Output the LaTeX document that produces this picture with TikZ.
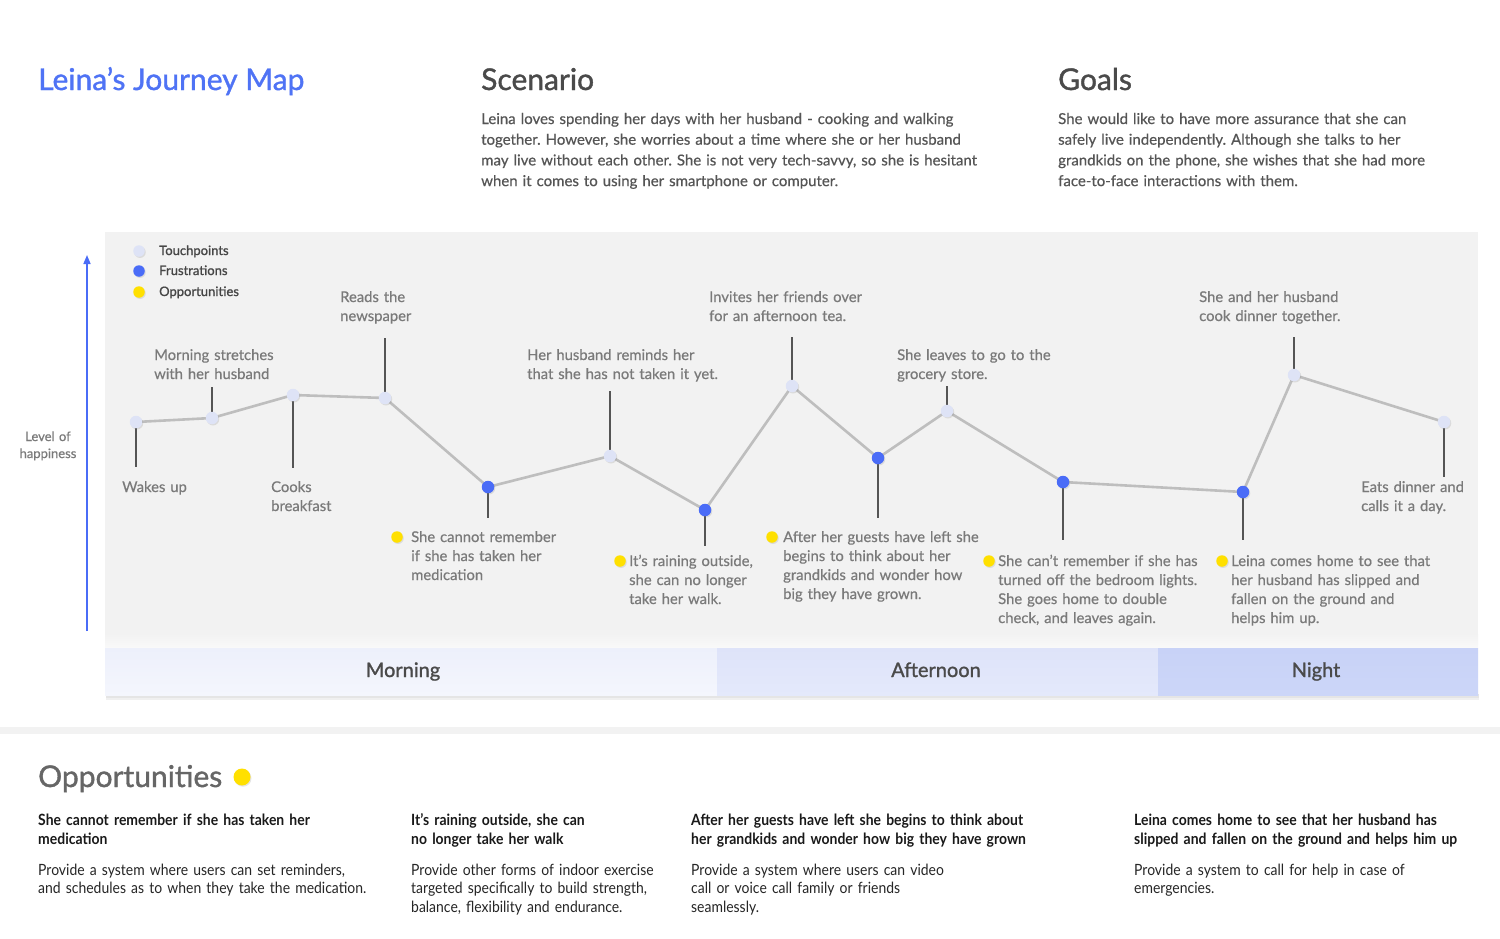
\documentclass[tikz,border=0pt]{standalone}
\usepackage{fontspec}
\setmainfont{Lato}
\newfontfamily\medfont{Lato}[FakeBold=1.2]
\newfontfamily\labelfont{Lato}[FakeBold=0.5]
\newfontfamily\narrowfont{Lato}[FakeStretch=0.9]
\usetikzlibrary{shadows,arrows.meta}
\frenchspacing

\definecolor{titleblue}{RGB}{79,115,245}
\definecolor{frust}{RGB}{74,108,247}
\definecolor{touch}{RGB}{222,227,246}
\definecolor{oppy}{RGB}{255,224,0}
\definecolor{panel}{RGB}{242,242,242}
\definecolor{curvegray}{RGB}{190,190,190}
\definecolor{stemgray}{RGB}{85,85,85}
\definecolor{labelgray}{RGB}{122,122,122}
\definecolor{headgray}{RGB}{74,74,74}
\definecolor{bodygray}{RGB}{85,85,85}
\definecolor{legendgray}{RGB}{70,70,70}
\definecolor{morningA}{RGB}{237,240,251}
\definecolor{morningB}{RGB}{244,246,253}
\definecolor{afternoonA}{RGB}{222,227,249}
\definecolor{afternoonB}{RGB}{228,233,251}
\definecolor{nightA}{RGB}{200,210,247}
\definecolor{nightB}{RGB}{204,214,248}

\pgfdeclarelayer{back}
\pgfdeclarelayer{mid}
\pgfsetlayers{back,mid,main}

\begin{document}
\begin{tikzpicture}[x=1pt,y=-1pt,
  every node/.style={inner sep=0pt},
  heading/.style={anchor=base west, font=\medfont\fontsize{30}{34}\selectfont, text=headgray},
  prose/.style={anchor=base west, text width=520pt, align=left,
    font=\labelfont\fontsize{15}{20.7}\selectfont, text=bodygray},
  lbl/.style={anchor=base west, text width=240pt, align=left,
    font=\labelfont\fontsize{14.8}{19}\selectfont, text=labelgray},
  legendtxt/.style={anchor=base west, font=\medfont\fontsize{13}{14}\selectfont, text=legendgray},
  dotbase/.style={circle, minimum size=12.5pt,
    drop shadow={shadow xshift=1pt, shadow yshift=-1.2pt, opacity=0.2}},
  touchdot/.style={dotbase, fill=touch},
  frustdot/.style={dotbase, fill=frust},
  oppdot/.style={dotbase, fill=oppy, minimum size=11.5pt},
  curve/.style={draw=curvegray, line width=2.6pt, rounded corners=5pt, line join=round},
  stem/.style={draw=stemgray, line width=1.1pt},
  phase/.style={anchor=base, font=\medfont\fontsize{20}{22}\selectfont, text=headgray},
  opptitle/.style={anchor=base west, text width=420pt, align=left,
    font=\narrowfont\fontsize{15.5}{19}\selectfont\bfseries, text=black!90},
  oppbody/.style={anchor=base west, text width=420pt, align=left,
    font=\narrowfont\fontsize{15.5}{18.5}\selectfont, text=black!85}
]
\useasboundingbox (0,0) rectangle (1500,938);

% ---------- page and chart panel ----------
\begin{pgfonlayer}{back}
  \fill[white] (0,0) rectangle (1500,938);
  \fill[panel] (105,232) rectangle (1478,648);
  \shade[top color=panel, bottom color=panel!45!white] (105,634) rectangle (1478,648);
  \fill[black, opacity=0.10] (106,694) rectangle (1479,698);
  \fill[black, opacity=0.06] (106,698) rectangle (1479,700);
  \shade[top color=morningA, bottom color=morningB] (105,648) rectangle (717,695);
  \shade[top color=afternoonA, bottom color=afternoonB] (717,648) rectangle (1158,695);
  \shade[top color=nightA, bottom color=nightB] (1158,648) rectangle (1478,695);
  \fill[panel] (0,727) rectangle (1500,734);
\end{pgfonlayer}

% ---------- header ----------
\node[anchor=base west, font=\medfont\fontsize{30}{34}\selectfont, text=titleblue] (title) at (38,90) {Leina’s Journey Map};
\node[heading] (scenhead) at (481,90) {Scenario};
\node[prose] (scentext) at (481,124) {Leina loves spending her days with her husband - cooking and walking\\
together. However, she worries about a time where she or her husband\\
may live without each other. She is not very tech-savvy, so she is hesitant\\
when it comes to using her smartphone or computer.};
\node[heading] (goalhead) at (1058,90) {Goals};
\node[prose] (goaltext) at (1058,124) {She would like to have more assurance that she can\\
safely live independently. Although she talks to her\\
grandkids on the phone, she wishes that she had more\\
face-to-face interactions with them.};

% ---------- day phases ----------
\node[phase] (morning) at (403,677) {Morning};
\node[phase] (afternoon) at (936,677) {Afternoon};
\node[phase] (night) at (1316,677) {Night};

% ---------- happiness axis ----------
\coordinate (axbot) at (87,631);
\coordinate (axtop) at (87,255);
\draw[frust, line width=1.6pt, -{Triangle[length=9pt,width=7pt]}] (axbot) -- (axtop);
\node[anchor=base, text width=80pt, align=center, font=\labelfont\fontsize{13}{17}\selectfont, text=labelgray]
  (axislabel) at (48,441) {Level of\\happiness};

% ---------- legend ----------
\node[touchdot, minimum size=11.5pt] (lgt) at (139,251) {};
\node[frustdot, minimum size=11.5pt] (lgf) at (139,271) {};
\node[oppdot] (lgo) at (139,292) {};
\node[legendtxt] (lgtt) at (159,255) {Touchpoints};
\node[legendtxt] (lgft) at (159,275) {Frustrations};
\node[legendtxt] (lgot) at (159,296) {Opportunities};

% ---------- journey points ----------
\node[touchdot] (p1)  at (136,422) {};
\node[touchdot] (p2)  at (212,418) {};
\node[touchdot] (p3)  at (293,395) {};
\node[touchdot] (p4)  at (385,398) {};
\node[frustdot] (p5)  at (488,487) {};
\node[touchdot] (p6)  at (610,456) {};
\node[frustdot] (p7)  at (705,510) {};
\node[touchdot] (p8)  at (792,386) {};
\node[frustdot] (p9)  at (878,458) {};
\node[touchdot] (p10) at (947,411) {};
\node[frustdot] (p11) at (1063,482) {};
\node[frustdot] (p12) at (1243,492) {};
\node[touchdot] (p13) at (1294,375) {};
\node[touchdot] (p14) at (1444,422) {};

% stem ends
\coordinate (s1)  at (136,467);
\coordinate (s2)  at (212,387);
\coordinate (s3)  at (293,468);
\coordinate (s4)  at (385,338);
\coordinate (s5)  at (488,518);
\coordinate (s6)  at (610,391);
\coordinate (s7)  at (705,546);
\coordinate (s8)  at (792,337);
\coordinate (s9)  at (878,518);
\coordinate (s10) at (947,386);
\coordinate (s11) at (1063,540);
\coordinate (s12) at (1243,540);
\coordinate (s13) at (1294,337);
\coordinate (s14) at (1444,477);

\begin{pgfonlayer}{mid}
  \draw[curve] (p1.center) -- (p2.center) -- (p3.center) -- (p4.center) -- (p5.center)
    -- (p6.center) -- (p7.center) -- (p8.center) -- (p9.center) -- (p10.center)
    -- (p11.center) -- (p12.center) -- (p13.center) -- (p14.center);
  \foreach \i in {1,...,14} { \draw[stem] (p\i.center) -- (s\i); }
\end{pgfonlayer}

% ---------- point labels ----------
\node[lbl] (l1)  at (122,492) {Wakes up};
\node[lbl] (l2)  at (154,360) {Morning stretches\\with her husband};
\node[lbl] (l3)  at (271,492) {Cooks\\breakfast};
\node[lbl] (l4)  at (340,302) {Reads the\\newspaper};
\node[lbl] (l5)  at (411,542) {She cannot remember\\if she has taken her\\medication};
\node[lbl] (l6)  at (527,360) {Her husband reminds her\\that she has not taken it yet.};
\node[lbl] (l7)  at (629,566) {It’s raining outside,\\she can no longer\\take her walk.};
\node[lbl] (l8)  at (709,302) {Invites her friends over\\for an afternoon tea.};
\node[lbl] (l9)  at (783,542) {After her guests have left she\\begins to think about her\\grandkids and wonder how\\big they have grown.};
\node[lbl] (l10) at (897,360) {She leaves to go to the\\grocery store.};
\node[lbl] (l11) at (998,566) {She can’t remember if she has\\turned off the bedroom lights.\\She goes home to double\\check, and leaves again.};
\node[lbl] (l12) at (1231,566) {Leina comes home to see that\\her husband has slipped and\\fallen on the ground and\\helps him up.};
\node[lbl] (l13) at (1199,302) {She and her husband\\cook dinner together.};
\node[lbl] (l14) at (1361,492) {Eats dinner and\\calls it a day.};

% opportunity markers beside labels
\node[oppdot] (o5)  at (397,537) {};
\node[oppdot] (o7)  at (620,561) {};
\node[oppdot] (o9)  at (772,537) {};
\node[oppdot] (o11) at (989,561) {};
\node[oppdot] (o12) at (1222,561) {};

% ---------- opportunities section ----------
\node[anchor=base west, font=\medfont\fontsize{30}{34}\selectfont, text=black!60] (opphead) at (38,787) {Opportunities};
\node[oppdot, minimum size=17pt] (oppheaddot) at (242,777) {};

\node[opptitle] (ot1) at (38,825) {She cannot remember if she has taken her\\medication};
\node[oppbody]  (ob1) at (38,875) {Provide a system where users can set reminders,\\and schedules as to when they take the medication.};
\node[opptitle] (ot2) at (411,825) {It’s raining outside, she can\\no longer take her walk};
\node[oppbody]  (ob2) at (411,875) {Provide other forms of indoor exercise\\targeted specifically to build strength,\\balance, flexibility and endurance.};
\node[opptitle] (ot3) at (691,825) {After her guests have left she begins to think about\\her grandkids and wonder how big they have grown};
\node[oppbody]  (ob3) at (691,875) {Provide a system where users can video\\call or voice call family or friends\\seamlessly.};
\node[opptitle] (ot4) at (1134,825) {Leina comes home to see that her husband has\\slipped and fallen on the ground and helps him up};
\node[oppbody]  (ob4) at (1134,875) {Provide a system to call for help in case of\\emergencies.};
\end{tikzpicture}
\end{document}
